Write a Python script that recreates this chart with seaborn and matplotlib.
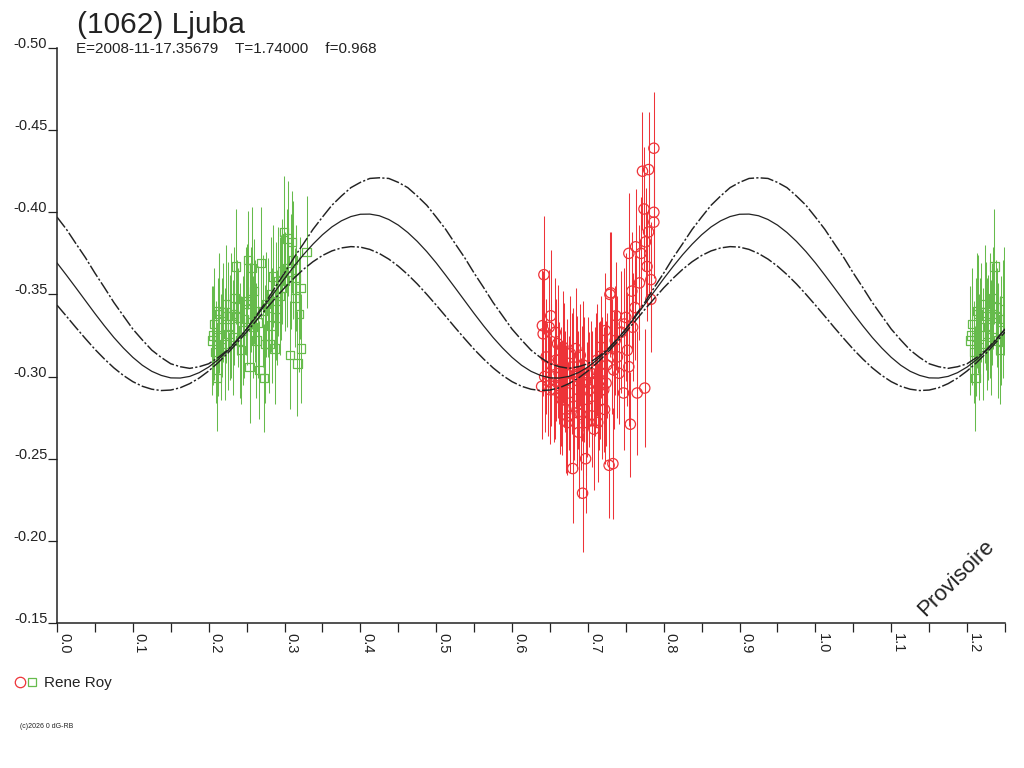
import numpy as np
import pandas as pd
import matplotlib
matplotlib.use("Agg")
import matplotlib.pyplot as plt
import seaborn as sns
from matplotlib.lines import Line2D
from matplotlib.legend_handler import HandlerTuple

# --- courbe de lumiere (phase, magnitude relative) ---
RED = "#EE3338"
GREEN = "#66BB4C"
INK = "#222222"

# points verts (phase, mag, erreur)
g_phase = [0.207, 0.206, 0.211, 0.214, 0.219, 0.225, 0.230, 0.234, 0.236, 0.239,
           0.243, 0.247, 0.252, 0.254, 0.256, 0.257, 0.258, 0.263, 0.267, 0.269,
           0.273, 0.274, 0.276, 0.280, 0.283, 0.285, 0.287, 0.290, 0.294, 0.296,
           0.299, 0.301, 0.304, 0.307, 0.310, 0.311, 0.314, 0.317, 0.319, 0.321,
           0.322, 0.329,
           0.209, 0.212, 0.217, 0.221, 0.228, 0.232, 0.238, 0.245, 0.250, 0.261,
           0.265, 0.278, 0.289, 0.297, 0.308,
           0.204, 0.213, 0.216, 0.223, 0.226, 0.233, 0.241, 0.249, 0.255, 0.260,
           0.271, 0.282, 0.292, 0.303, 0.315]
g_mag = [-0.332, -0.325, -0.299, -0.338, -0.339, -0.337, -0.337, -0.348, -0.367, -0.336,
         -0.316, -0.335, -0.371, -0.306, -0.347, -0.366, -0.330, -0.322, -0.304, -0.369,
         -0.299, -0.320, -0.344, -0.320, -0.331, -0.361, -0.317, -0.336, -0.349, -0.354,
         -0.388, -0.358, -0.384, -0.313, -0.382, -0.371, -0.348, -0.308, -0.338, -0.354,
         -0.317, -0.376,
         -0.315, -0.324, -0.330, -0.320, -0.330, -0.324, -0.342, -0.328, -0.344, -0.340,
         -0.333, -0.342, -0.346, -0.364, -0.364,
         -0.322, -0.340, -0.318, -0.344, -0.326, -0.338, -0.322, -0.346, -0.333, -0.352,
         -0.340, -0.350, -0.358, -0.366, -0.360]
g_err = [0.034, 0.030, 0.032, 0.036, 0.030, 0.033, 0.038, 0.031, 0.035, 0.030,
         0.033, 0.036, 0.030, 0.034, 0.032, 0.037, 0.031, 0.035, 0.030, 0.034,
         0.033, 0.036, 0.032, 0.030, 0.035, 0.031, 0.034, 0.029, 0.036, 0.032,
         0.034, 0.030, 0.035, 0.033, 0.031, 0.036, 0.030, 0.032, 0.035, 0.031,
         0.033, 0.034,
         0.031, 0.036, 0.030, 0.034, 0.032, 0.035, 0.029, 0.033, 0.037, 0.031,
         0.034, 0.030, 0.036, 0.032, 0.035,
         0.033, 0.035, 0.032, 0.036, 0.034, 0.031, 0.035, 0.033, 0.036, 0.032,
         0.034, 0.035, 0.033, 0.036, 0.032]

# points rouges
r_phase = [0.642, 0.640, 0.641, 0.639, 0.649, 0.651, 0.657, 0.658, 0.662, 0.664,
           0.666, 0.671, 0.673, 0.677, 0.680, 0.684, 0.686, 0.688, 0.690, 0.693,
           0.695, 0.697, 0.699, 0.704, 0.708, 0.712, 0.715, 0.717, 0.719, 0.722,
           0.723, 0.728, 0.729, 0.733, 0.734, 0.737, 0.739, 0.741, 0.747, 0.750,
           0.752, 0.754, 0.756, 0.754, 0.759, 0.763, 0.765, 0.770, 0.775, 0.776,
           0.780, 0.783, 0.783, 0.787, 0.787, 0.774,
           0.645, 0.648, 0.652, 0.655, 0.660, 0.663, 0.668, 0.670, 0.675, 0.679,
           0.682, 0.687, 0.691, 0.694, 0.698, 0.702, 0.706, 0.710, 0.713, 0.718,
           0.721, 0.725, 0.732, 0.736, 0.744, 0.748, 0.758, 0.762, 0.768, 0.778,
           0.787, 0.772, 0.780, 0.730,
           0.643, 0.650, 0.656, 0.661, 0.667, 0.672, 0.676, 0.681, 0.685, 0.692,
           0.700, 0.705, 0.711, 0.716, 0.724]
r_mag = [-0.362, -0.331, -0.326, -0.294, -0.330, -0.337, -0.327, -0.310, -0.302, -0.294,
         -0.286, -0.280, -0.272, -0.314, -0.244, -0.317, -0.278, -0.266, -0.313, -0.229,
         -0.298, -0.250, -0.286, -0.302, -0.268, -0.310, -0.294, -0.318, -0.286, -0.280,
         -0.328, -0.246, -0.350, -0.247, -0.304, -0.337, -0.312, -0.302, -0.290, -0.336,
         -0.316, -0.306, -0.271, -0.375, -0.330, -0.379, -0.290, -0.375, -0.293, -0.382,
         -0.388, -0.359, -0.347, -0.394, -0.400, -0.402,
         -0.312, -0.297, -0.307, -0.292, -0.320, -0.287, -0.307, -0.297, -0.290, -0.302,
         -0.282, -0.292, -0.277, -0.307, -0.272, -0.292, -0.282, -0.297, -0.272, -0.302,
         -0.292, -0.307, -0.312, -0.322, -0.327, -0.332, -0.352, -0.342, -0.357, -0.367,
         -0.439, -0.425, -0.426, -0.351,
         -0.300, -0.292, -0.300, -0.310, -0.318, -0.302, -0.276, -0.306, -0.300, -0.296,
         -0.302, -0.296, -0.304, -0.298, -0.296]
r_err = [0.036, 0.034, 0.038, 0.032, 0.035, 0.040, 0.033, 0.037, 0.031, 0.036,
         0.034, 0.039, 0.032, 0.035, 0.033, 0.037, 0.034, 0.040, 0.031, 0.036,
         0.038, 0.033, 0.035, 0.032, 0.037, 0.034, 0.039, 0.031, 0.036, 0.033,
         0.035, 0.032, 0.038, 0.034, 0.036, 0.033, 0.037, 0.031, 0.035, 0.039,
         0.034, 0.036, 0.032, 0.037, 0.033, 0.035, 0.038, 0.034, 0.036, 0.033,
         0.037, 0.035, 0.032, 0.034, 0.036, 0.038,
         0.035, 0.033, 0.037, 0.032, 0.036, 0.034, 0.038, 0.031, 0.035, 0.037,
         0.033, 0.036, 0.034, 0.039, 0.032, 0.035, 0.037, 0.033, 0.036, 0.034,
         0.038, 0.032, 0.035, 0.033, 0.037, 0.034, 0.036, 0.032, 0.035, 0.033,
         0.034, 0.036, 0.035, 0.037,
         0.034, 0.033, 0.038, 0.035, 0.034, 0.033, 0.035, 0.036, 0.037, 0.035,
         0.034, 0.032, 0.035, 0.036, 0.038]

# courbes ajustees (pas de 0.0125 en phase)
phase_grid = np.linspace(0, 1.25, 101)
fit_mid = [-0.3692, -0.3617, -0.3540, -0.3462, -0.3384, -0.3309, -0.3238, -0.3174, -0.3117, -0.3069,
           -0.3032, -0.3007, -0.2992, -0.2991, -0.3001, -0.3024, -0.3058, -0.3103, -0.3157, -0.3219,
           -0.3289, -0.3363, -0.3440, -0.3518, -0.3596, -0.3671, -0.3742, -0.3806, -0.3863, -0.3911,
           -0.3948, -0.3974, -0.3988, -0.3989, -0.3979, -0.3956, -0.3922, -0.3877, -0.3823, -0.3761,
           -0.3692, -0.3617, -0.3540, -0.3462, -0.3384, -0.3309, -0.3238, -0.3174, -0.3117, -0.3069,
           -0.3032, -0.3007, -0.2992, -0.2991, -0.3001, -0.3024, -0.3058, -0.3103, -0.3157, -0.3219,
           -0.3289, -0.3363, -0.3440, -0.3518, -0.3596, -0.3671, -0.3742, -0.3806, -0.3863, -0.3911,
           -0.3948, -0.3974, -0.3988, -0.3989, -0.3979, -0.3956, -0.3922, -0.3877, -0.3823, -0.3761,
           -0.3692, -0.3617, -0.3540, -0.3462, -0.3384, -0.3309, -0.3238, -0.3174, -0.3117, -0.3069,
           -0.3032, -0.3007, -0.2992, -0.2991, -0.3001, -0.3024, -0.3058, -0.3103, -0.3157, -0.3219,
           -0.3289]
fit_up = [-0.3971, -0.3896, -0.3809, -0.3724, -0.3630, -0.3542, -0.3451, -0.3370, -0.3289, -0.3223,
          -0.3161, -0.3116, -0.3078, -0.3060, -0.3050, -0.3060, -0.3078, -0.3116, -0.3161, -0.3223,
          -0.3289, -0.3370, -0.3451, -0.3542, -0.3630, -0.3724, -0.3809, -0.3896, -0.3971, -0.4043,
          -0.4099, -0.4150, -0.4182, -0.4206, -0.4210, -0.4206, -0.4182, -0.4150, -0.4099, -0.4043,
          -0.3971, -0.3896, -0.3809, -0.3724, -0.3630, -0.3542, -0.3451, -0.3370, -0.3289, -0.3223,
          -0.3161, -0.3116, -0.3078, -0.3060, -0.3050, -0.3060, -0.3078, -0.3116, -0.3161, -0.3223,
          -0.3289, -0.3370, -0.3451, -0.3542, -0.3630, -0.3724, -0.3809, -0.3896, -0.3971, -0.4043,
          -0.4099, -0.4150, -0.4182, -0.4206, -0.4210, -0.4206, -0.4182, -0.4150, -0.4099, -0.4043,
          -0.3971, -0.3896, -0.3809, -0.3724, -0.3630, -0.3542, -0.3451, -0.3370, -0.3289, -0.3223,
          -0.3161, -0.3116, -0.3078, -0.3060, -0.3050, -0.3060, -0.3078, -0.3116, -0.3161, -0.3223,
          -0.3289]
fit_low = [-0.3435, -0.3367, -0.3298, -0.3231, -0.3166, -0.3107, -0.3053, -0.3007, -0.2969, -0.2941,
           -0.2923, -0.2915, -0.2918, -0.2932, -0.2957, -0.2991, -0.3034, -0.3085, -0.3142, -0.3205,
           -0.3271, -0.3339, -0.3408, -0.3475, -0.3540, -0.3599, -0.3653, -0.3699, -0.3737, -0.3765,
           -0.3783, -0.3791, -0.3788, -0.3774, -0.3749, -0.3715, -0.3672, -0.3621, -0.3564, -0.3501,
           -0.3435, -0.3367, -0.3298, -0.3231, -0.3166, -0.3107, -0.3053, -0.3007, -0.2969, -0.2941,
           -0.2923, -0.2915, -0.2918, -0.2932, -0.2957, -0.2991, -0.3034, -0.3085, -0.3142, -0.3205,
           -0.3271, -0.3339, -0.3408, -0.3475, -0.3540, -0.3599, -0.3653, -0.3699, -0.3737, -0.3765,
           -0.3783, -0.3791, -0.3788, -0.3774, -0.3749, -0.3715, -0.3672, -0.3621, -0.3564, -0.3501,
           -0.3435, -0.3367, -0.3298, -0.3231, -0.3166, -0.3107, -0.3053, -0.3007, -0.2969, -0.2941,
           -0.2923, -0.2915, -0.2918, -0.2932, -0.2957, -0.2991, -0.3034, -0.3085, -0.3142, -0.3205,
           -0.3271]

green = pd.DataFrame({"phase": g_phase, "mag": g_mag, "err": g_err})
red = pd.DataFrame({"phase": r_phase, "mag": r_mag, "err": r_err})
# phases < 0.25 repetees apres 1.0
wrap = green[green.phase < 0.25].copy()
wrap["phase"] += 1.0
green = pd.concat([green, wrap], ignore_index=True)

sns.set_style("ticks")
plt.rcParams["font.family"] = ["Liberation Sans", "DejaVu Sans"]
plt.rcParams["axes.unicode_minus"] = False

fig = plt.figure(figsize=(10.24, 7.68), dpi=100)
ax = fig.add_axes([57 / 1024, 1 - 623 / 768, (1005 - 57) / 1024, (623 - 48) / 768])

for df, col, mk, sz in [(green, GREEN, "s", 36), (red, RED, "o", 55)]:
    ax.errorbar(df.phase, df.mag, yerr=df.err, fmt="none", ecolor=col,
                elinewidth=0.75, capsize=0, zorder=2)
    sns.scatterplot(data=df, x="phase", y="mag", marker=mk, s=sz, facecolor="none",
                    edgecolor=col, linewidth=0.9, ax=ax, zorder=3, legend=False)

dash = (0, (9, 1.5, 1.5, 1.5))
sns.lineplot(x=phase_grid, y=fit_mid, color=INK, lw=0.9, ax=ax, zorder=4)
sns.lineplot(x=phase_grid, y=fit_up, color=INK, lw=1.05, linestyle=dash, ax=ax, zorder=4)
sns.lineplot(x=phase_grid, y=fit_low, color=INK, lw=1.05, linestyle=dash, ax=ax, zorder=4)

ax.set_xlim(0, 1.25)
ax.set_ylim(-0.15, -0.50)
xt = np.round(np.arange(0, 1.2501, 0.05), 2)
ax.set_xticks(xt)
ax.set_xticklabels(["%.1f" % t if round(t * 20) % 2 == 0 else "" for t in xt])
yt = np.round(np.arange(-0.50, -0.1499, 0.05), 2)
ax.set_yticks(yt)
ax.set_yticklabels(["%.2f" % t for t in yt])
ax.set_xlabel("")
ax.set_ylabel("")

for s in ["top", "right"]:
    ax.spines[s].set_visible(False)
for s in ["left", "bottom"]:
    ax.spines[s].set_color(INK)
    ax.spines[s].set_linewidth(1.1)
ax.tick_params(axis="both", direction="out", length=6.5, width=0.9, color=INK,
               labelcolor=INK, labelsize=10.5)
ax.tick_params(axis="x", pad=1)
ax.tick_params(axis="y", pad=0.5)
for lab in ax.get_xticklabels():
    lab.set_rotation(-90)
    lab.set_ha("left")
    lab.set_va("top")
for lab in ax.get_yticklabels():
    lab.set_va("baseline")

fig.text(77 / 1024, 1 - 33 / 768, "(1062) Ljuba", fontsize=21.5, color=INK, va="baseline")
fig.text(76 / 1024, 1 - 53 / 768, "E=2008-11-17.35679    T=1.74000    f=0.968",
         fontsize=11, color=INK, va="baseline")
fig.text(956 / 1024, 1 - 578 / 768, "Provisoire", fontsize=16, color=INK, rotation=45,
         ha="center", va="center")
fig.text(20 / 1024, 1 - 726 / 768, "(c)2026 0 dG-RB", fontsize=5, color=INK, va="center")

h_red = Line2D([], [], marker="o", ls="", mfc="none", mec=RED, ms=7.5, mew=0.9)
h_green = Line2D([], [], marker="s", ls="", mfc="none", mec=GREEN, ms=5.5, mew=0.9)
fig.legend(handles=[(h_red, h_green)], labels=["Rene Roy"],
           handler_map={tuple: HandlerTuple(ndivide=None, pad=0.2)},
           loc="center left", bbox_to_anchor=(15 / 1024, 1 - 683 / 768),
           frameon=False, fontsize=11, handlelength=1.45, handletextpad=0.45,
           borderpad=0, borderaxespad=0, labelcolor=INK)

fig.savefig("out.png", dpi=100, facecolor="white")
